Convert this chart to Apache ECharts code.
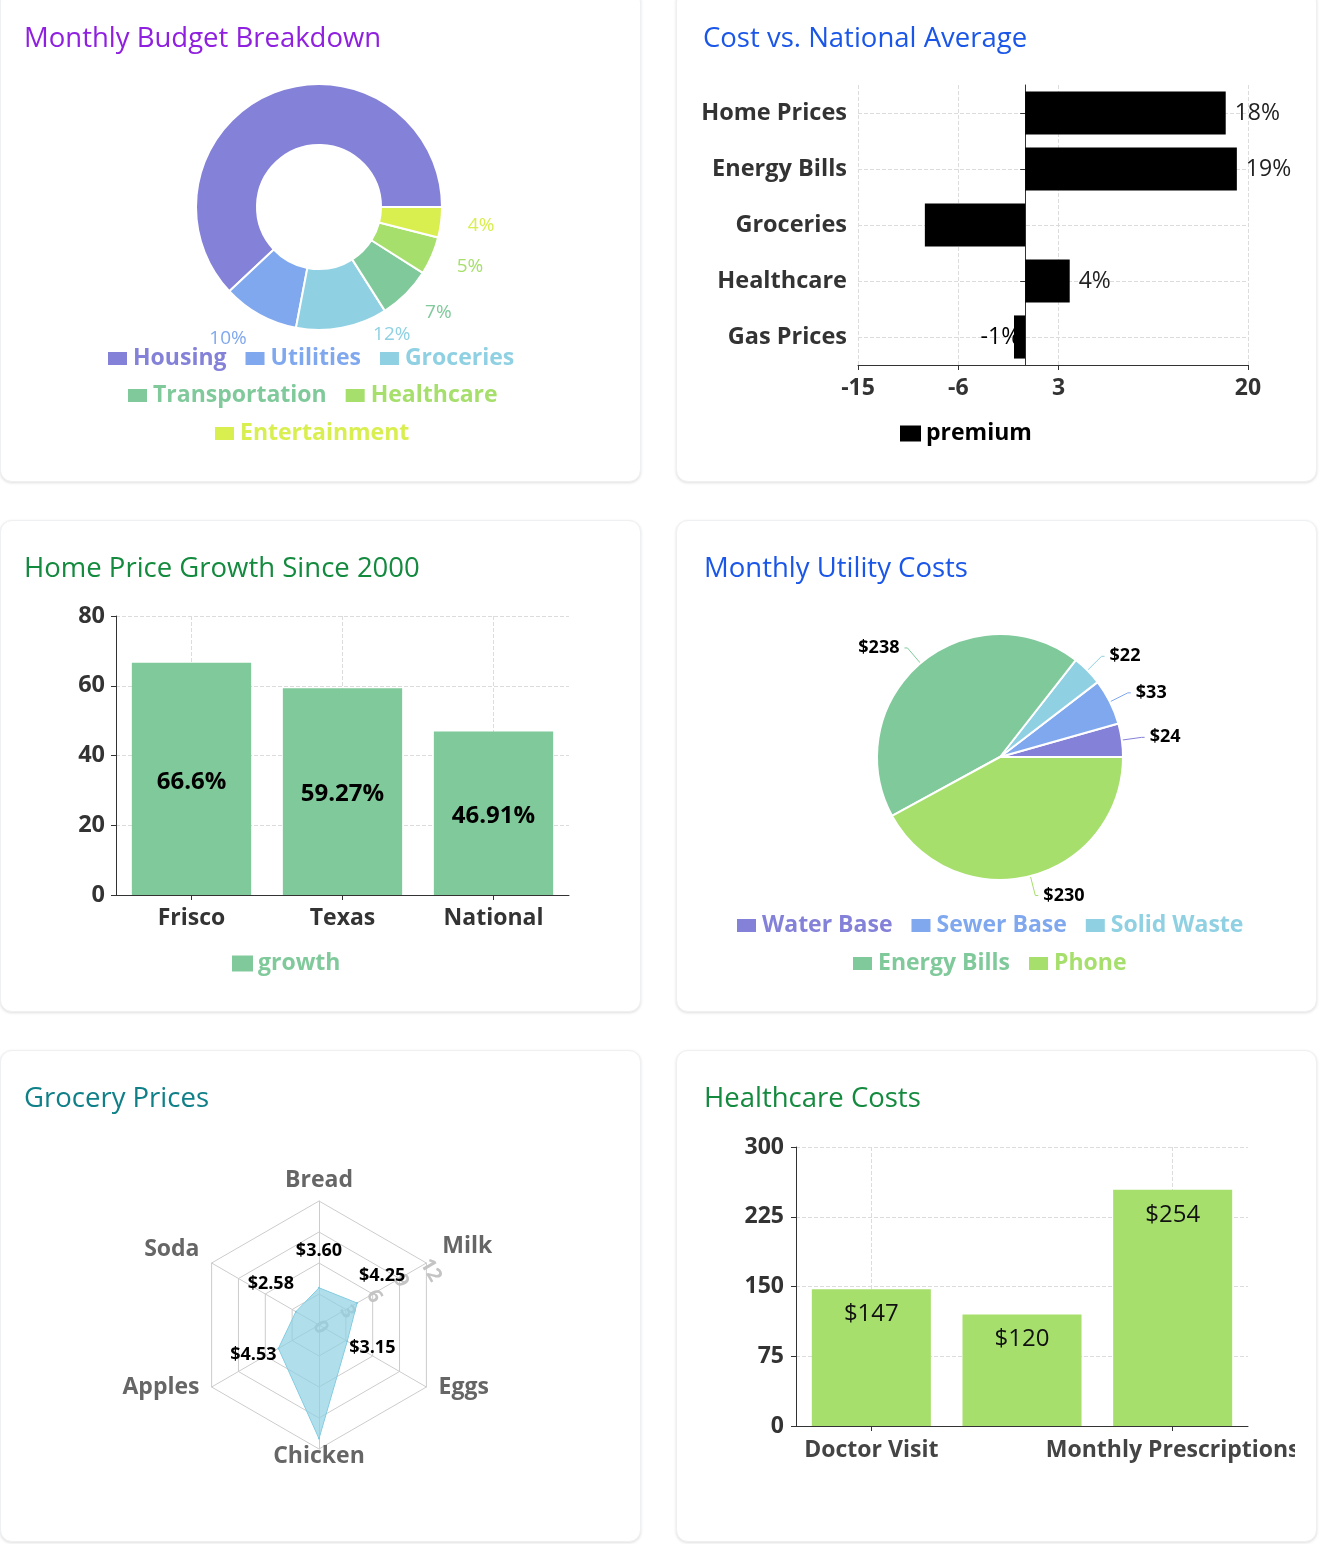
<!DOCTYPE html>
<html><head><meta charset="utf-8">
<script src="https://cdn.jsdelivr.net/npm/echarts@6/dist/echarts.min.js"></script>
<style>
html,body{margin:0;padding:0;background:#fff;width:1325px;height:1544px;overflow:hidden;}
.card{position:absolute;width:641px;height:492px;background:#fff;border:1px solid #eef0f2;border-radius:12px;box-shadow:0 1px 3px rgba(0,0,0,0.13);box-sizing:border-box;}
.chart{position:absolute;width:597px;height:492px;}
</style></head><body>
<div class="card" style="left:0;top:-10px"></div>
<div class="card" style="left:676px;top:-10px"></div>
<div class="card" style="left:0;top:520px"></div>
<div class="card" style="left:676px;top:520px"></div>
<div class="card" style="left:0;top:1050px"></div>
<div class="card" style="left:676px;top:1050px"></div>
<div id="c1" class="chart" style="left:22px;top:-10px"></div>
<div id="c2" class="chart" style="left:698px;top:-10px"></div>
<div id="c3" class="chart" style="left:22px;top:520px"></div>
<div id="c4" class="chart" style="left:698px;top:520px"></div>
<div id="c5" class="chart" style="left:22px;top:1050px"></div>
<div id="c6" class="chart" style="left:698px;top:1050px"></div>
<script>
// ---------- data ----------
const budgetCategories = ['Housing', 'Utilities', 'Groceries', 'Transportation', 'Healthcare', 'Entertainment'];
const budgetShares = [62, 10, 12, 7, 5, 4];

const costCategories = ['Home Prices', 'Energy Bills', 'Groceries', 'Healthcare', 'Gas Prices'];
const costPremium = [18, 19, -9, 4, -1];
const costTicks = [-15, -6, 3, 20];

const growthCategories = ['Frisco', 'Texas', 'National'];
const growthValues = [66.6, 59.27, 46.91];

const utilityCategories = ['Water Base', 'Sewer Base', 'Solid Waste', 'Energy Bills', 'Phone'];
const utilityCosts = [24, 33, 22, 238, 230];

// radar indicators, listed counter-clockwise starting at the top
const groceryItems = ['Bread', 'Soda', 'Apples', 'Chicken', 'Eggs', 'Milk'];
const groceryPrices = [3.60, 2.58, 4.53, 10.99, 3.15, 4.25];
const groceryScaleMax = 12;

const healthCategories = ['Doctor Visit', 'Specialist Visit', 'Monthly Prescriptions'];
const healthCosts = [147, 120, 254];

// ---------- style ----------
const FONT = "'Open Sans', 'Noto Sans', sans-serif";
const palette = ['#8481d8', '#80a8ee', '#8fd1e3', '#80c99b', '#a6df6b', '#d9ee4f'];
const AX = '#333';
const titleStyle = (c) => ({fontSize: 27.5, fontWeight: 'normal', color: c, fontFamily: FONT});
function mkTitle(text, color, left) { return {text, left: left, top: 35, padding: 0, textStyle: titleStyle(color)}; }
const dashed = {show: true, lineStyle: {type: 'dashed', color: '#dcdcdc'}};

// ---------- 1 donut ----------
(function () {
  const ch = echarts.init(document.getElementById('c1'));
  const rows = [budgetCategories.slice(0, 3), budgetCategories.slice(3, 5), budgetCategories.slice(5)];
  const rowTops = [357, 394, 432];
  const rowLefts = [84, 104, 191];
  // label nudges (style only)
  const labelNudge = {Groceries: [26, -20]};
  ch.setOption({
    color: palette,
    textStyle: {fontFamily: FONT},
    title: mkTitle('Monthly Budget Breakdown', '#9020e0', 2),
    legend: rows.map((r, i) => ({
      data: r.map(n => ({name: n, textStyle: {color: palette[budgetCategories.indexOf(n)]}})),
      left: rowLefts[i], top: rowTops[i], padding: 0, itemGap: 17,
      icon: 'rect', itemWidth: 21, itemHeight: 15,
      textStyle: {fontSize: 23, fontWeight: 'bold', fontFamily: FONT}
    })),
    series: [{
      type: 'pie', radius: [62, 123], center: [297, 217], startAngle: 0, clockwise: false,
      itemStyle: {borderColor: '#fff', borderWidth: 2},
      label: {show: true, position: 'outside', fontSize: 19, color: 'inherit', formatter: '{d}%', fontFamily: FONT, distanceToLabelLine: 0},
      labelLine: {show: false, length: 27, length2: 0},
      labelLayout: {hideOverlap: false},
      data: budgetCategories.map((n, i) => ({
        name: n, value: budgetShares[i],
        label: i === 0 ? {show: false} : (labelNudge[n] ? {offset: labelNudge[n]} : undefined)
      }))
    }]
  });
})();

// ---------- 2 horizontal bars ----------
(function () {
  const ch = echarts.init(document.getElementById('c2'));
  ch.setOption({
    textStyle: {fontFamily: FONT},
    title: mkTitle('Cost vs. National Average', '#1a56e8', 5),
    grid: {left: 160, right: 47, top: 95, bottom: 117, outerBoundsMode: 'none'},
    legend: {data: [{name: 'premium'}], left: 202, top: 432, padding: 0, icon: 'rect', itemWidth: 21, itemHeight: 16,
      textStyle: {fontSize: 23, fontWeight: 'bold', color: '#000', fontFamily: FONT}},
    xAxis: {
      type: 'value', min: -15, max: 20,
      axisLine: {show: true, lineStyle: {color: AX}},
      axisTick: {show: true, customValues: costTicks, lineStyle: {color: AX}},
      axisLabel: {customValues: costTicks, fontSize: 23, fontWeight: 'bold', color: AX, margin: 12},
      splitLine: Object.assign({customValues: costTicks}, dashed)
    },
    yAxis: {
      type: 'category', data: costCategories, inverse: true,
      axisLine: {show: true, lineStyle: {color: AX}},
      axisTick: {show: true, alignWithLabel: true, lineStyle: {color: AX}},
      axisLabel: {fontSize: 23.5, fontWeight: 'bold', color: AX, margin: 11},
      splitLine: Object.assign({alignWithLabel: true}, dashed)
    },
    series: [{
      name: 'premium', type: 'bar', barCategoryGap: '23%', itemStyle: {color: '#000'},
      label: {show: true, fontSize: 23, color: '#222', distance: 9, formatter: p => p.value + '%', fontFamily: FONT},
      data: costPremium.map(v => ({value: v, label: v < 0
        ? {position: 'insideRight', distance: 5, color: '#000', textBorderWidth: 0}
        : {position: 'right', distance: 9}}))
    }]
  });
})();

// ---------- 3 growth bars ----------
(function () {
  const ch = echarts.init(document.getElementById('c3'));
  ch.setOption({
    textStyle: {fontFamily: FONT},
    title: mkTitle('Home Price Growth Since 2000', '#138a3e', 2),
    grid: {left: 94, right: 50, top: 96, bottom: 117, outerBoundsMode: 'none'},
    legend: {data: [{name: 'growth', textStyle: {color: palette[3]}}], left: 210, top: 432, padding: 0,
      icon: 'rect', itemWidth: 21, itemHeight: 16, textStyle: {fontSize: 23, fontWeight: 'bold', fontFamily: FONT}},
    xAxis: {
      type: 'category', data: growthCategories,
      axisLine: {show: true, lineStyle: {color: AX}},
      axisTick: {show: true, alignWithLabel: true, lineStyle: {color: AX}},
      axisLabel: {fontSize: 23, fontWeight: 'bold', color: AX, margin: 12},
      splitLine: Object.assign({alignWithLabel: true}, dashed)
    },
    yAxis: {
      type: 'value', min: 0, max: 80, interval: 20,
      axisLine: {show: true, lineStyle: {color: AX}},
      axisTick: {show: true, lineStyle: {color: AX}},
      axisLabel: {fontSize: 23.5, fontWeight: 'bold', color: AX, margin: 11},
      splitLine: dashed
    },
    series: [{
      name: 'growth', type: 'bar', barCategoryGap: '21%', itemStyle: {color: palette[3]},
      label: {show: true, position: 'inside', offset: [0, 3], fontSize: 24, fontWeight: 'bold', color: '#000', formatter: p => p.value + '%', fontFamily: FONT},
      data: growthValues
    }]
  });
})();

// ---------- 4 utility pie ----------
(function () {
  const ch = echarts.init(document.getElementById('c4'));
  const rows = [utilityCategories.slice(0, 3), utilityCategories.slice(3)];
  const rowTops = [394, 432];
  const rowLefts = [37, 153];
  ch.setOption({
    color: palette,
    textStyle: {fontFamily: FONT},
    title: mkTitle('Monthly Utility Costs', '#1a56e8', 6),
    legend: rows.map((r, i) => ({
      data: r.map(n => ({name: n, textStyle: {color: palette[utilityCategories.indexOf(n)]}})),
      left: rowLefts[i], top: rowTops[i], padding: 0, itemGap: 17,
      icon: 'rect', itemWidth: 21, itemHeight: 15,
      textStyle: {fontSize: 23, fontWeight: 'bold', fontFamily: FONT}
    })),
    series: [{
      type: 'pie', radius: 123, center: [302, 237], startAngle: 0, clockwise: false,
      itemStyle: {borderColor: '#fff', borderWidth: 2},
      label: {show: true, fontSize: 18, fontWeight: 'bold', color: '#000', formatter: p => '$' + p.value, fontFamily: FONT},
      labelLine: {show: true, length: 20, length2: 3},
      data: utilityCategories.map((n, i) => ({name: n, value: utilityCosts[i]}))
    }]
  });
})();

// ---------- 5 radar ----------
(function () {
  const ch = echarts.init(document.getElementById('c5'));
  const cx = 297, cy = 275;
  ch.setOption({
    textStyle: {fontFamily: FONT},
    title: mkTitle('Grocery Prices', '#0f8088', 2),
    radar: {
      center: [cx, cy], radius: 124, splitNumber: 4, startAngle: 90,
      indicator: groceryItems.map(n => n === 'Milk'
        ? {name: n, max: groceryScaleMax, min: 0, axisLabel: {show: true, color: '#c4c4c4', fontSize: 20, fontWeight: 'bold', rotate: -60, align: 'left', margin: 3, fontFamily: FONT}}
        : {name: n, max: groceryScaleMax, min: 0}),
      axisName: {
        color: '#666', fontSize: 23, fontWeight: 'bold', fontFamily: FONT, verticalAlign: 'middle',
        formatter: n => '{n|' + n + '}\n{g| }',
        rich: {n: {color: '#666', fontSize: 23, fontWeight: 'bold', fontFamily: FONT, lineHeight: 28}, g: {fontSize: 2, lineHeight: 14}}
      },
      nameGap: 14,
      axisLabel: {show: false},
      splitArea: {show: false},
      splitLine: {lineStyle: {color: '#ccc'}},
      axisLine: {lineStyle: {color: '#ccc'}}
    },
    series: [{
      type: 'radar', symbol: 'circle', symbolSize: 2,
      itemStyle: {color: '#7cc8e0'},
      lineStyle: {color: '#7cc8e0', width: 1},
      areaStyle: {color: '#8fd1e3', opacity: 0.7},
      label: {show: true, fontSize: 18, fontWeight: 'bold', color: '#000', fontFamily: FONT,
        formatter: p => groceryItems[p.dimensionIndex] === 'Chicken' ? '' : '$' + Number(p.value).toFixed(2)},
      labelLayout: function (p) {
        const px = p.rect.x + p.rect.width / 2, py = p.rect.y + p.rect.height / 2;
        const dx = px - cx, dy = py - cy, L = Math.sqrt(dx * dx + dy * dy) || 1;
        return {x: px + dx / L * 29, y: py + dy / L * 29 - 8 - (dy < -5 && Math.abs(dx) > 5 ? 5 : 0), align: 'center', verticalAlign: 'middle'};
      },
      data: [{value: groceryPrices, name: 'price'}]
    }]
  });
})();

// ---------- 6 healthcare ----------
(function () {
  const ch = echarts.init(document.getElementById('c6'));
  ch.setOption({
    textStyle: {fontFamily: FONT},
    title: mkTitle('Healthcare Costs', '#138a3e', 6),
    grid: {left: 98, right: 47, top: 97, bottom: 116, outerBoundsMode: 'none'},
    xAxis: {
      type: 'category', data: healthCategories,
      axisLine: {show: true, lineStyle: {color: AX}},
      axisTick: {show: true, alignWithLabel: true, interval: 1, lineStyle: {color: AX}},
      axisLabel: {fontSize: 23, fontWeight: 'bold', color: '#444', margin: 13, interval: 1},
      splitLine: Object.assign({alignWithLabel: true, interval: 1}, dashed)
    },
    yAxis: {
      type: 'value', min: 0, max: 300, interval: 75,
      axisLine: {show: true, lineStyle: {color: AX}},
      axisTick: {show: true, lineStyle: {color: AX}},
      axisLabel: {fontSize: 23, fontWeight: 'bold', color: AX, margin: 12},
      splitLine: dashed
    },
    series: [{
      type: 'bar', barCategoryGap: '21%', itemStyle: {color: palette[4]},
      label: {show: true, position: 'insideTop', distance: 13, fontSize: 24, color: '#111', formatter: p => '$' + p.value, fontFamily: FONT},
      data: healthCosts
    }]
  });
})();
</script>
</body></html>
